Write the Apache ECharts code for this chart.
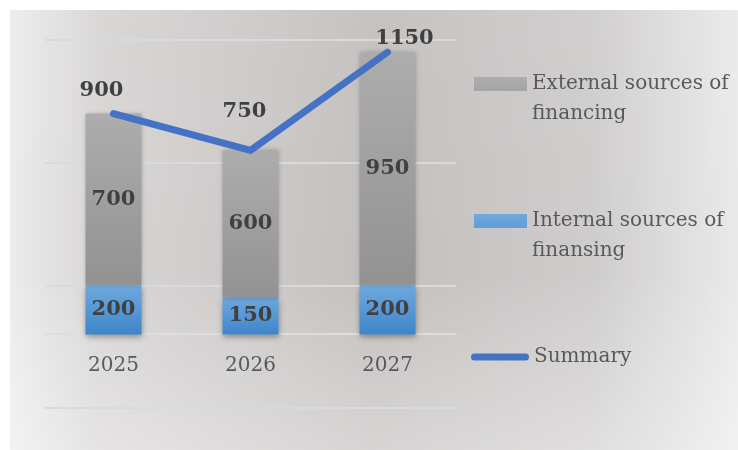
<!DOCTYPE html>
<html>
<head>
<meta charset="utf-8">
<script src="https://cdn.jsdelivr.net/npm/echarts@6/dist/echarts.min.js"></script>
<style>
  html, body { margin: 0; padding: 0; background: #ffffff; }
  #chart { width: 738px; height: 450px; }
</style>
</head>
<body>
<div id="chart"></div>
<script>
// 数据
const categories = ['2025', '2026', '2027']
const internalData = [200, 150, 200]
const externalData = [700, 600, 950]
const summaryData = [900, 750, 1150]
const legendNames = ['External sources of\nfinancing', 'Internal sources of\nfinansing', 'Summary']

const serif = "'DejaVu Serif', 'Liberation Serif', serif"
const textGray = '#595959'
const labelDark = '#404040'

// 灰色柱渐变
const grayFill = new echarts.graphic.LinearGradient(0, 0, 0, 1, [
    { offset: 0, color: '#adadad' },
    { offset: 1, color: '#929292' }
])
// 蓝色柱渐变
const blueFill = new echarts.graphic.LinearGradient(0, 0, 0, 1, [
    { offset: 0, color: '#6fa9de' },
    { offset: 1, color: '#3e85ca' }
])

// 折线标签的位置
const lineLabelOffsets = [[-12, 0], [-6, 0], [17, 0]]
const lineLabelDistances = [12, 28, 3]

const inBarLabel = {
    show: true,
    position: 'inside',
    fontFamily: serif,
    fontWeight: 'bold',
    fontSize: 21,
    color: labelDark
}

// 图例图标：矩形放在框的上部，使其与第一行文字对齐
const topRectIcon = 'path://M0,0 H53 V14 H0 Z M0,44 L53,44'

function legendFor(name, left, top, extra) {
    return Object.assign({
        data: [name],
        orient: 'vertical',
        left: left,
        top: top,
        padding: 0,
        itemWidth: 53,
        itemHeight: 44,
        itemGap: 5,
        icon: topRectIcon,
        selectedMode: false,
        textStyle: { fontFamily: serif, fontSize: 20, color: textGray, lineHeight: 30 }
    }, extra || {})
}

const cs = echarts.init(document.getElementById('chart'))
const option = {
    backgroundColor: '#ffffff',
    animation: false,
    graphic: [
        {
            type: 'rect',
            left: 10,
            top: 10,
            z: -10,
            shape: { width: 728, height: 440 },
            style: {
                fill: new echarts.graphic.LinearGradient(0, 0, 1, 0, [
                    { offset: 0, color: '#ececec' },
                    { offset: 0.12, color: '#d8d6d5' },
                    { offset: 0.5, color: '#c2bfbd' },
                    { offset: 0.8, color: '#cfcdcc' },
                    { offset: 1, color: '#eaeaea' }
                ])
            }
        },
        {
            type: 'rect',
            left: 10,
            top: 10,
            z: -9,
            shape: { width: 728, height: 440 },
            style: {
                fill: new echarts.graphic.LinearGradient(0, 0, 0, 1, [
                    { offset: 0, color: 'rgba(255,255,255,0.06)' },
                    { offset: 0.6, color: 'rgba(255,255,255,0)' },
                    { offset: 1, color: 'rgba(255,255,255,0.35)' }
                ])
            }
        }
    ],
    legend: [
        legendFor(legendNames[0], 474, 69),
        legendFor(legendNames[1], 474, 206),
        legendFor(legendNames[2], 471, 342, {
            itemWidth: 58,
            itemHeight: 7,
            icon: 'path://M3.5,0 H54.5 A3.5,3.5 0 0 1 54.5,7 H3.5 A3.5,3.5 0 0 1 3.5,0 Z'
        })
    ],
    grid: {
        left: 45,
        right: 282,
        top: 40,
        bottom: 42
    },
    xAxis: {
        type: 'category',
        data: categories,
        offset: -74,
        axisLine: { show: true, onZero: false, lineStyle: { color: '#dedede', width: 2 } },
        axisTick: { show: false },
        axisLabel: {
            margin: 22,
            fontFamily: serif,
            fontSize: 20,
            color: textGray
        }
    },
    yAxis: {
        type: 'value',
        min: -300,
        max: 1200,
        interval: 500,
        axisLine: { show: false },
        axisTick: { show: false },
        axisLabel: { show: false },
        splitLine: { lineStyle: { color: '#dadada', width: 2 } }
    },
    series: [
        {
            type: 'bar',
            name: legendNames[1],
            stack: 'total',
            barWidth: 56,
            data: internalData,
            itemStyle: {
                color: blueFill,
                shadowColor: 'rgba(0,0,0,0.35)',
                shadowBlur: 6,
                shadowOffsetY: 3
            },
            label: inBarLabel
        },
        {
            type: 'bar',
            name: legendNames[0],
            stack: 'total',
            barWidth: 56,
            data: externalData,
            itemStyle: {
                color: grayFill,
                shadowColor: 'rgba(0,0,0,0.25)',
                shadowBlur: 5
            },
            label: inBarLabel
        },
        {
            type: 'line',
            name: legendNames[2],
            data: summaryData.map((v, i) => ({
                value: v,
                label: {
                    offset: lineLabelOffsets[i],
                    distance: lineLabelDistances[i]
                }
            })),
            symbol: 'circle',
            symbolSize: 1,
            showSymbol: true,
            z: 5,
            lineStyle: { color: '#4472c4', width: 7, cap: 'round', join: 'round' },
            itemStyle: { color: '#4472c4' },
            label: {
                show: true,
                position: 'top',
                fontFamily: serif,
                fontWeight: 'bold',
                fontSize: 21,
                color: labelDark
            }
        }
    ]
}
cs.setOption(option)
</script>
</body>
</html>
